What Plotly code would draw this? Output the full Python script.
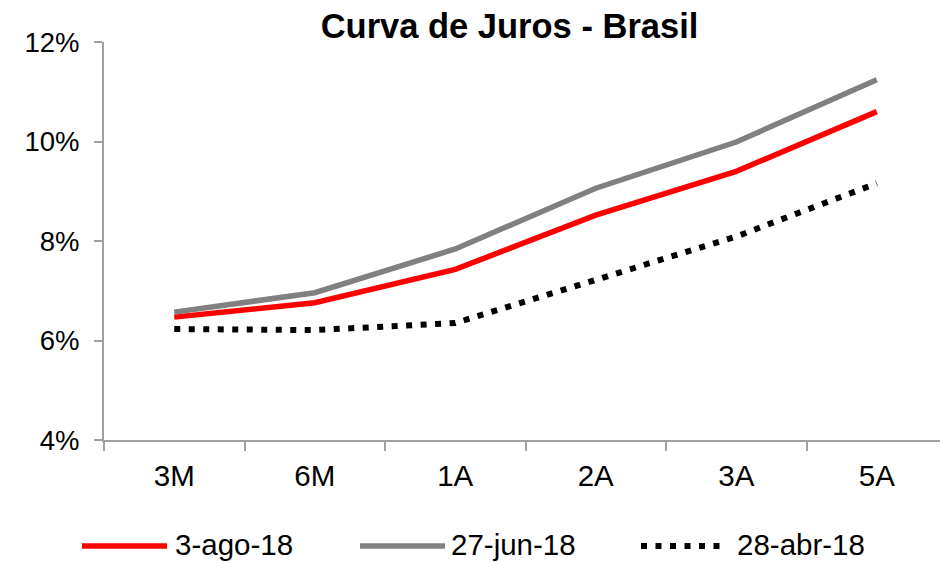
import plotly.graph_objects as go

categories = ["3M", "6M", "1A", "2A", "3A", "5A"]
ago_18 = [6.47, 6.76, 7.43, 8.52, 9.40, 10.60]
jun_18 = [6.57, 6.96, 7.84, 9.06, 9.99, 11.24]
abr_18 = [6.23, 6.21, 6.35, 7.22, 8.09, 9.16]
series_names = ["3-ago-18", "27-jun-18", "28-abr-18"]
y_ticks = [4, 6, 8, 10, 12]
y_tick_labels = ["4%", "6%", "8%", "10%", "12%"]

FONT = "Liberation Sans, Arial, sans-serif"
AXIS_COLOR = "#A0A0A0"
W, H = 941, 562
L, R, T, B = 104, 1, 42, 122
PW, PH = W - L - R, H - T - B

styles = [
    dict(color="#FF0000", width=5.5),
    dict(color="#808080", width=5.5),
    dict(color="#000000", width=6, dash="6px,8.5px"),
]
series = [ago_18, jun_18, abr_18]

fig = go.Figure()
for name, vals, st in zip(series_names, series, styles):
    fig.add_trace(go.Scatter(x=categories, y=vals, name=name, mode="lines",
                             line=st, showlegend=False))

# custom legend (long sample lines as in the reference)
def px_x(p):
    return (p - L) / PW

def px_y(p):
    return (T + PH - p) / PH

legend_y = 545
legend_items = [(82, 167, 174), (360, 445, 450), (641, 726, 736)]
for (x0, x1, tx), name, st in zip(legend_items, series_names, styles):
    fig.add_shape(type="line", xref="paper", yref="paper",
                  x0=px_x(x0), x1=px_x(x1), y0=px_y(legend_y + 1), y1=px_y(legend_y + 1),
                  line=st)
    fig.add_annotation(text=name, xref="paper", yref="paper", x=px_x(tx),
                       y=px_y(legend_y - 1), xanchor="left", yanchor="middle",
                       showarrow=False, borderpad=0,
                       font=dict(size=29.5, family=FONT, color="black"))

fig.update_layout(
    width=W, height=H,
    margin=dict(l=L, r=R, t=T, b=B),
    paper_bgcolor="white", plot_bgcolor="white",
    font=dict(family=FONT, size=28, color="black"),
    title=dict(text="<b>Curva de Juros - Brasil</b>", x=509.5 / W, xanchor="center",
               y=1 - 26 / H, yanchor="middle", yref="container",
               font=dict(size=34.5, family=FONT, color="black")),
    showlegend=False,
)
fig.update_xaxes(type="category", range=[-0.5, len(categories) - 0.55],
                 showline=True, linecolor=AXIS_COLOR, linewidth=2,
                 ticks="outside", tickson="boundaries", ticklen=9, tickcolor=AXIS_COLOR,
                 tickwidth=2, showgrid=False, zeroline=False, ticklabelstandoff=9,
                 tickfont=dict(size=29.5, family=FONT, color="black"), fixedrange=True)
fig.update_yaxes(range=[4, 12], tickvals=y_ticks, ticktext=y_tick_labels,
                 showline=True, linecolor=AXIS_COLOR, linewidth=2,
                 ticks="outside", ticklen=8, tickcolor=AXIS_COLOR, tickwidth=2,
                 showgrid=False, zeroline=False, ticklabelstandoff=9,
                 tickfont=dict(size=27.5, family=FONT, color="black"), fixedrange=True)

fig.write_html("out.html", config={"displayModeBar": False},
               post_script="document.body.style.margin='0';document.body.style.overflow='hidden';")
